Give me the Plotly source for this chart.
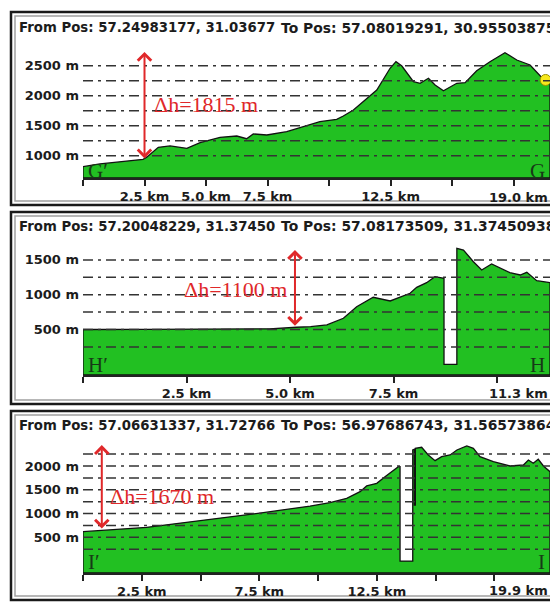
import plotly.graph_objects as go

# ---------------- data ----------------
G_KM = [0, 0.69, 2.44, 2.59, 3.06, 3.54, 4.22, 4.76, 5.57, 6.25, 6.65, 6.92, 7.47, 8.28,
        9.23, 9.63, 10.31, 10.58, 10.99, 11.94, 12.48, 12.72, 12.96, 13.43, 13.70, 14.04,
        14.31, 14.65, 15.19, 15.53, 16.00, 16.54, 17.15, 17.63, 18.17, 18.71, 18.98]
G_ELEV = [817, 862, 940, 973, 1140, 1162, 1123, 1217, 1307, 1328, 1283, 1362, 1345, 1400,
          1512, 1567, 1607, 1662, 1762, 2095, 2457, 2567, 2495, 2233, 2207, 2290,
          2178, 2083, 2207, 2217, 2417, 2567, 2717, 2595, 2512, 2273, 2207]

H_KM = [0, 1.5, 3.0, 4.5, 5.16, 5.5, 5.89, 6.29, 6.61, 7.01, 7.42, 7.66, 7.90, 8.06, 8.30,
        8.50, 8.70, 8.72, 8.72, 9.03, 9.03, 9.19, 9.43, 9.63, 9.87, 10.07, 10.31, 10.56,
        10.72, 10.96, 11.28]
H_ELEV = [500, 502, 505, 510, 532, 540, 565, 661, 828, 963, 910, 963, 1020, 1106, 1173,
          1259, 1236, 1236, 0, 0, 1667, 1642, 1474, 1355, 1441, 1379, 1316, 1283,
          1322, 1201, 1173]

I_KM = [0, 2.71, 5.55, 7.67, 9.66, 10.51, 11.22, 11.79, 12.07, 12.50, 12.85, 13.14, 13.42,
        13.49, 13.49, 14.03, 14.03, 14.10, 14.10, 14.14, 14.14, 14.41, 14.69, 14.98, 15.26,
        15.62, 15.91, 16.33, 16.61, 16.89, 17.46, 18.17, 18.74, 18.95, 19.16, 19.37,
        19.59, 19.87]
I_ELEV = [618, 710, 879, 1018, 1158, 1228, 1321, 1460, 1580, 1636, 1775, 1880, 1985,
          1985, 0, 0, 2340, 2355, 1180, 1180, 2373, 2394, 2232, 2112, 2196,
          2232, 2337, 2421, 2373, 2196, 2091, 2000, 2021, 2126, 2057, 2141,
          2000, 1880]

PROFILE_KM = [G_KM, H_KM, I_KM]
PROFILE_ELEV = [G_ELEV, H_ELEV, I_ELEV]

TITLES_FROM = ["From Pos: 57.24983177, 31.03677",
               "From Pos: 57.20048229, 31.37450",
               "From Pos: 57.06631337, 31.72766"]
TITLES_TO = ["To Pos: 57.08019291, 30.95503875",
             "To Pos: 57.08173509, 31.37450938",
             "To Pos: 56.97686743, 31.56573864"]

Y_TICKS = [[1000, 1500, 2000, 2500], [500, 1000, 1500], [500, 1000, 1500, 2000]]
GRID_LINES = [[1000, 1250, 1500, 1750, 2000, 2250, 2500],
              [250, 500, 750, 1000, 1250, 1500],
              [250, 500, 750, 1000, 1250, 1500, 1750, 2000, 2250]]
X_TICKS = [[0, 2.5, 5, 7.5, 10, 12.5, 15, 17.5],
           [0, 2.5, 5, 7.5, 10],
           [0, 2.5, 5, 7.5, 10, 12.5, 15, 17.5]]
X_TICK_TEXT = [["", "2.5 km", "5.0 km", "7.5 km", "", "12.5 km", "", ""],
               ["", "2.5 km", "5.0 km", "7.5 km", ""],
               ["", "2.5 km", "", "7.5 km", "", "12.5 km", "", ""]]
TOTAL_LABELS = ["19.0 km", "11.3 km", "19.9 km"]

DH_KM = [2.5, 5.12, 0.8]
DH_TOP = [2730, 1642, 2440]
DH_BOTTOM = [930, 532, 653]
DH_TEXT = ["Δh=1815 m", "Δh=1100 m", "Δh=1670 m"]
DH_TEXT_KM = [2.8, 2.39, 1.06]
DH_TEXT_ELEV = [1845, 1068, 1354]

START_LABELS = ["G′", "H′", "I′"]
END_LABELS = ["G", "H", "I"]

MARKER_KM = [18.8]
MARKER_ELEV = [2262]

# ---------------- layout geometry (pixels) ----------------
W, H = 550, 602
PLOT_LEFT = 83
PANELS = [
    dict(frame_top=12, frame_bottom=205, plot_top=45, plot_bottom=178,
         yrange=[628, 2845], xrange=[0, 18.98], title_y=28, xlabel_y=197, end_y=171),
    dict(frame_top=212, frame_bottom=404, plot_top=240, plot_bottom=375,
         yrange=[-154, 1786], xrange=[0, 11.28], title_y=226, xlabel_y=393, end_y=365),
    dict(frame_top=411, frame_bottom=600, plot_top=437, plot_bottom=573,
         yrange=[-251, 2610], xrange=[0, 19.87], title_y=425, xlabel_y=590, end_y=562),
]


def px(v):
    return v / W


def py(v):
    return 1 - v / H


GREEN = "#22c022"
RED = "#e0282a"
TXT = "#1c1c1c"
SANS = "DejaVu Sans"
SERIF = "Liberation Serif"

fig = go.Figure()
shapes = []
annotations = []
layout_axes = {}

for i, p in enumerate(PANELS):
    n = "" if i == 0 else str(i + 1)
    xa, ya = "x" + n, "y" + n
    km, elev = PROFILE_KM[i], PROFILE_ELEV[i]
    base = p["yrange"][0]
    poly_x = [km[0]] + km + [km[-1], km[0]]
    poly_y = [base] + elev + [base, base]
    fig.add_trace(go.Scatter(x=poly_x, y=poly_y, mode="lines", fill="toself",
                             fillcolor=GREEN, line=dict(color="#111", width=1.3),
                             xaxis=xa, yaxis=ya, hoverinfo="skip", showlegend=False))

    layout_axes["xaxis" + n] = dict(
        domain=[px(PLOT_LEFT), 1], range=p["xrange"], anchor=ya,
        tickmode="array", tickvals=X_TICKS[i], ticktext=X_TICK_TEXT[i],
        ticks="outside", ticklen=6, tickwidth=1.5, tickcolor="#222",
        showline=True, linecolor="#222", linewidth=1.5, showgrid=False, zeroline=False,
        tickfont=dict(family=SANS, size=13, color=TXT, weight="bold"), fixedrange=True)
    layout_axes["yaxis" + n] = dict(
        domain=[py(p["plot_bottom"]), py(p["plot_top"])], range=p["yrange"], anchor=xa,
        tickmode="array", tickvals=Y_TICKS[i], ticktext=[f"{v} m" for v in Y_TICKS[i]],
        ticks="", showline=False, showgrid=False, zeroline=False, ticklabelstandoff=3,
        tickfont=dict(family=SANS, size=13, color=TXT, weight="bold"), fixedrange=True)

    # dashed grid lines drawn over the terrain
    for v in GRID_LINES[i]:
        shapes.append(dict(type="line", xref=xa + " domain", x0=0, x1=1, yref=ya, y0=v, y1=v,
                           line=dict(color="#333", width=1.5, dash="10px,5px,3px,5px"),
                           layer="above"))

    # panel frame
    shapes.append(dict(type="rect", xref="paper", yref="paper",
                       x0=px(11), x1=px(570), y0=py(p["frame_bottom"]), y1=py(p["frame_top"]),
                       line=dict(color="#1a1a1a", width=2.5), layer="below"))
    shapes.append(dict(type="rect", xref="paper", yref="paper",
                       x0=px(15), x1=px(570), y0=py(p["frame_bottom"] - 4), y1=py(p["frame_top"] + 4),
                       line=dict(color="#a0a0a0", width=1.5), layer="below"))

    # titles
    annotations.append(dict(xref="paper", yref="paper", x=px(17), y=py(p["title_y"]),
                            xanchor="left", yanchor="middle", showarrow=False,
                            text=TITLES_FROM[i],
                            font=dict(family=SANS, size=13.3, color=TXT, weight="bold")))
    annotations.append(dict(xref="paper", yref="paper", x=px(280), y=py(p["title_y"]),
                            xanchor="left", yanchor="middle", showarrow=False,
                            text=TITLES_TO[i], bgcolor="white", borderpad=0,
                            font=dict(family=SANS, size=13.9, color=TXT, weight="bold")))
    # total length label
    annotations.append(dict(xref="paper", yref="paper", x=1, y=py(p["xlabel_y"]),
                            xanchor="right", yanchor="middle", showarrow=False,
                            text=TOTAL_LABELS[i],
                            font=dict(family=SANS, size=13, color=TXT, weight="bold")))
    # delta-h arrow
    annotations.append(dict(xref=xa, yref=ya, axref=xa, ayref=ya,
                            x=DH_KM[i], y=DH_TOP[i], ax=DH_KM[i], ay=DH_BOTTOM[i],
                            text="", showarrow=True, arrowhead=4, startarrowhead=4,
                            arrowside="end+start", arrowsize=1.3, startarrowsize=1.3,
                            arrowwidth=2, arrowcolor=RED, standoff=0, startstandoff=0))
    annotations.append(dict(xref=xa, yref=ya, x=DH_TEXT_KM[i], y=DH_TEXT_ELEV[i],
                            xanchor="left", yanchor="middle", showarrow=False,
                            text=DH_TEXT[i], font=dict(family=SERIF, size=22, color=RED)))
    # profile end labels
    annotations.append(dict(xref="paper", yref="paper", x=px(86), y=py(p["end_y"]),
                            xanchor="left", yanchor="middle", showarrow=False,
                            text=START_LABELS[i], font=dict(family=SERIF, size=21, color="#173a17")))
    annotations.append(dict(xref="paper", yref="paper", x=px(547), y=py(p["end_y"]),
                            xanchor="right", yanchor="middle", showarrow=False,
                            text=END_LABELS[i], font=dict(family=SERIF, size=21, color="#173a17")))

fig.add_trace(go.Scatter(x=MARKER_KM, y=MARKER_ELEV, mode="markers",
                         marker=dict(size=11, color="#f7e81c", line=dict(color="#9a9000", width=1)),
                         xaxis="x", yaxis="y", hoverinfo="skip", showlegend=False, cliponaxis=False))

fig.update_layout(width=W, height=H, margin=dict(l=0, r=0, t=0, b=0),
                  paper_bgcolor="white", plot_bgcolor="white", showlegend=False,
                  shapes=shapes, annotations=annotations, **layout_axes)

fig.write_html("out.html", config={"displayModeBar": False},
               post_script="document.body.style.margin='0px';document.body.style.overflow='hidden';")
